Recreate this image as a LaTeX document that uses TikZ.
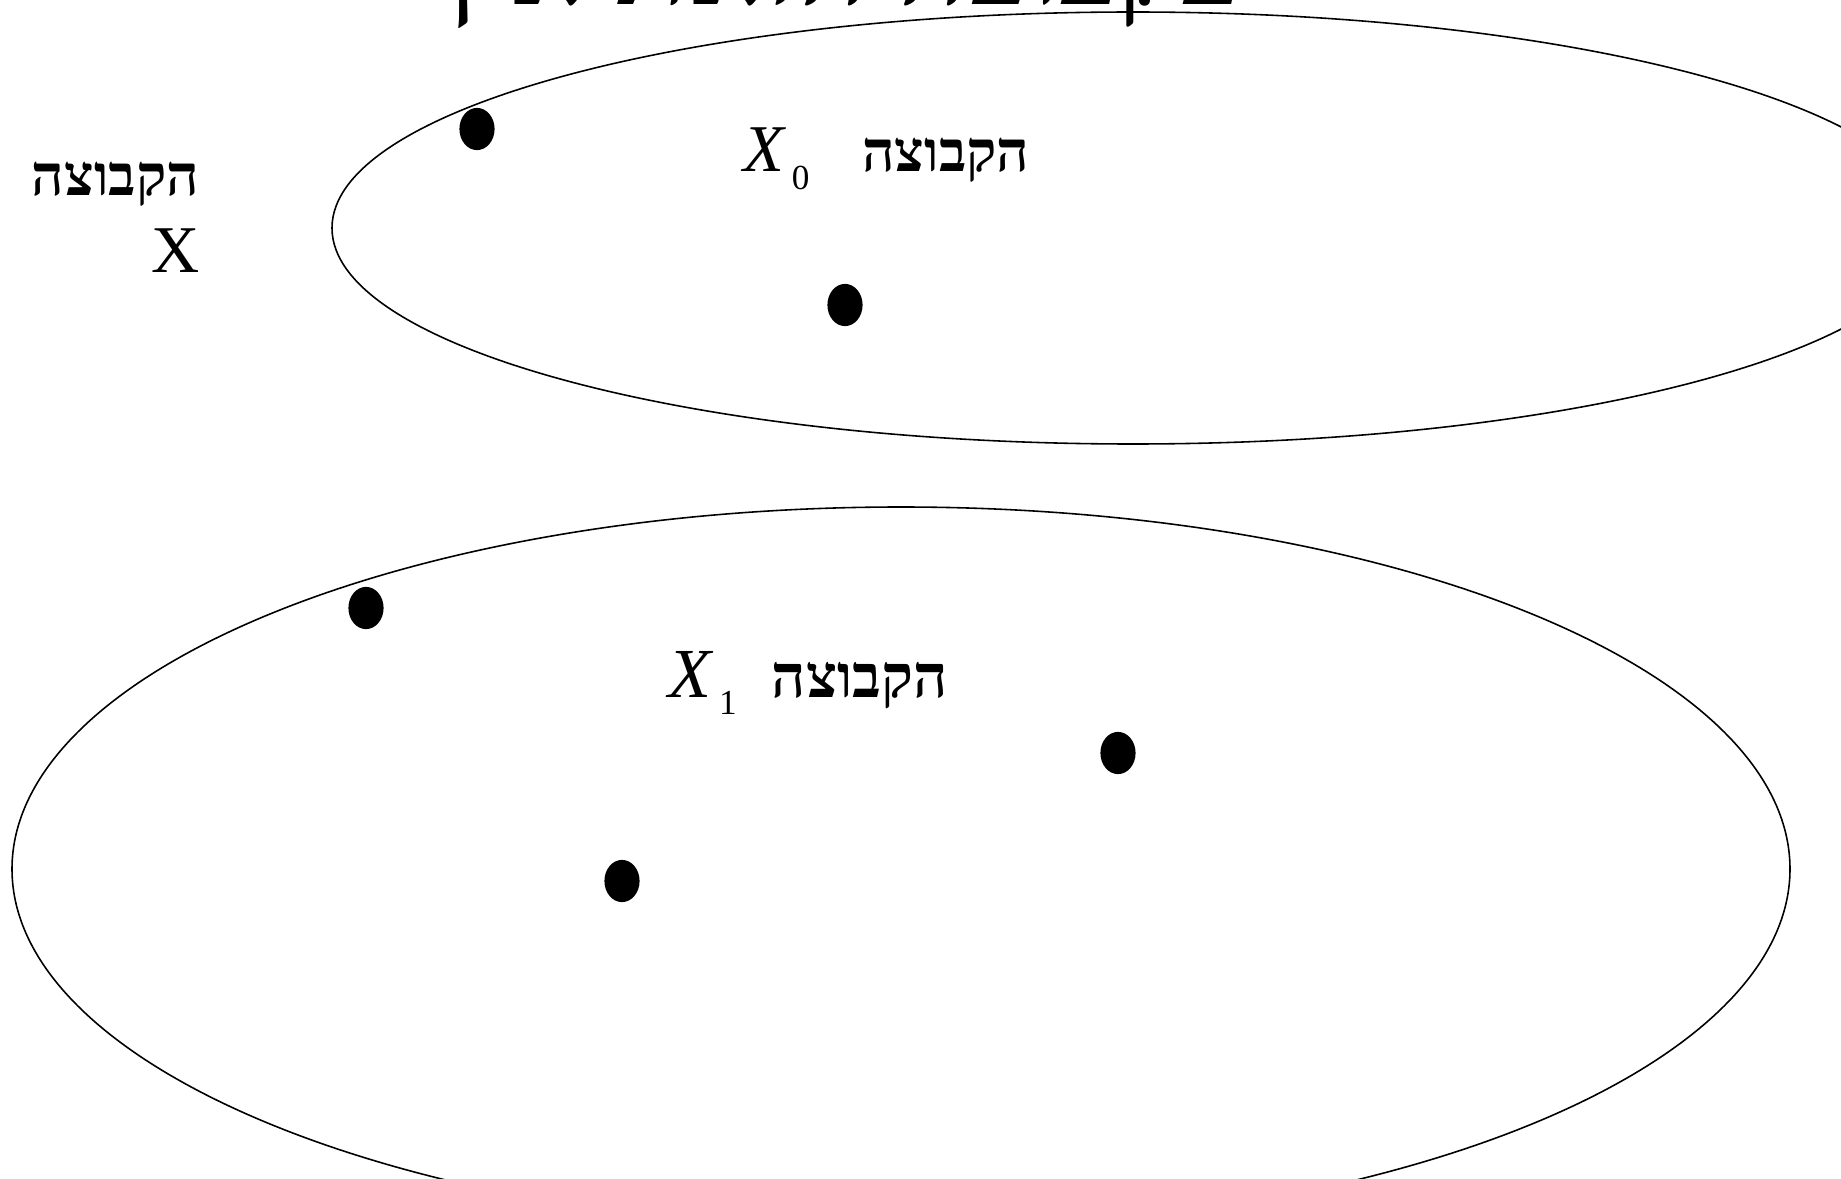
\documentclass[tikz,border=0pt]{standalone}
\usepackage{fontspec}
\setmainfont{Liberation Serif}
\newfontfamily\hebfont[Script=Hebrew, Scale=0.85]{Liberation Serif}
\TeXXeTstate=1
\usetikzlibrary{shapes.geometric}
\newcommand{\setsub}[1]{\kern1.5pt\lower5pt\hbox{\fontsize{10}{10}\selectfont #1}}
\newcommand{\setword}{{\hebfont\bfseries\beginR הקבוצה\endR}}

\begin{document}
\begin{tikzpicture}[x=0.01cm, y=-0.01cm,
    dot/.style={ellipse, fill=black, inner sep=0pt, minimum width=10pt, minimum height=12pt},
    setlbl/.style={font=\fontsize{19}{22}\selectfont, inner sep=0pt},
]
    \useasboundingbox (0,0) rectangle (1841,1179);
    \clip (0,0) rectangle (1841,1179);

    % title, only its lower edge falls inside the page
    \node[font=\fontsize{40}{40}\selectfont\bfseries\hebfont, anchor=base, inner sep=0pt] (title) at (843,5) {\beginR בקבוצה הזאת אין\endR};

    % the two sets
    \draw[line width=0.45pt] (1133,228) ellipse [x radius=801, y radius=216];
    \draw[line width=0.45pt] (901,869) ellipse [x radius=889, y radius=362];

    \node[setlbl, align=right, anchor=east] (lblX) at (200,217) {\setword\\X};
    \node[setlbl, anchor=base west] (lblX0) at (743,172) {\textit{X}\setsub{0}\hspace{15pt}\setword};
    \node[setlbl, anchor=base west] (lblX1) at (668,697) {\fontsize{20}{22}\selectfont\textit{X}\setsub{1}\hspace{10pt}\setword};

    \node[dot] (d01) at (477,129) {};
    \node[dot] (d02) at (845,305) {};
    \node[dot] (d11) at (366,608) {};
    \node[dot] (d12) at (1118,753) {};
    \node[dot] (d13) at (622,881) {};
\end{tikzpicture}
\end{document}
